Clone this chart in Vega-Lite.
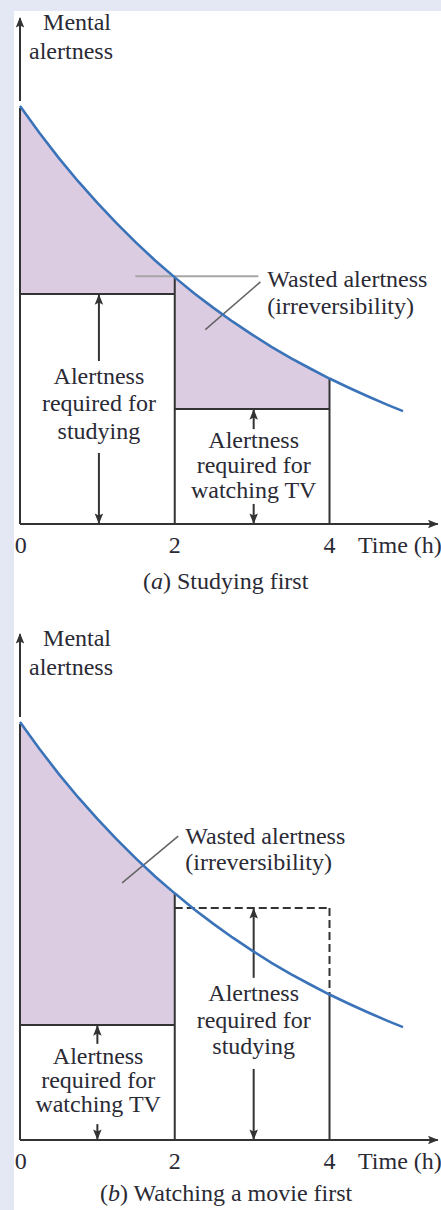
{
  "$schema": "https://vega.github.io/schema/vega-lite/v6.json",
  "background": "#e4e8f4",
  "padding": {"left": 14, "top": 10, "right": 0, "bottom": 0},
  "spacing": 0,
  "bounds": "flush",
  "config": {
    "view": {"fill": "white", "stroke": null},
    "text": {"font": "Liberation Serif", "fontSize": 24, "color": "#2a2a35", "baseline": "alphabetic"}
  },
  "datasets": {
    "curve": [
      {"t": 0, "a": 100}, {"t": 0.25, "a": 93.6}, {"t": 0.5, "a": 87.6}, {"t": 0.75, "a": 82.0},
      {"t": 1, "a": 76.8}, {"t": 1.25, "a": 71.9}, {"t": 1.5, "a": 67.3}, {"t": 1.75, "a": 63.0},
      {"t": 2, "a": 59.0}, {"t": 2.25, "a": 55.2}, {"t": 2.5, "a": 51.7}, {"t": 2.75, "a": 48.4},
      {"t": 3, "a": 45.3}, {"t": 3.25, "a": 42.4}, {"t": 3.5, "a": 39.7}, {"t": 3.75, "a": 37.2},
      {"t": 4, "a": 34.8}, {"t": 4.25, "a": 32.6}, {"t": 4.5, "a": 30.5}, {"t": 4.75, "a": 28.5},
      {"t": 4.95, "a": 27.0}
    ],
    "segs": [
      {"panel": "a", "role": "axis", "t": 0, "a": 0, "t2": 5.4, "a2": 0},
      {"panel": "a", "role": "axis", "t": 0, "a": 101.2, "t2": 0, "a2": 121},
      {"panel": "a", "role": "box", "t": 0, "a": 0, "t2": 0, "a2": 99.5},
      {"panel": "a", "role": "box", "t": 0, "a": 55, "t2": 2, "a2": 55},
      {"panel": "a", "role": "box", "t": 2, "a": 0, "t2": 2, "a2": 59},
      {"panel": "a", "role": "box", "t": 2, "a": 27.5, "t2": 4, "a2": 27.5},
      {"panel": "a", "role": "box", "t": 4, "a": 0, "t2": 4, "a2": 34.8},
      {"panel": "a", "role": "box", "t": 1.02, "a": 55, "t2": 1.02, "a2": 39},
      {"panel": "a", "role": "box", "t": 1.02, "a": 17, "t2": 1.02, "a2": 0},
      {"panel": "a", "role": "box", "t": 3.02, "a": 27.5, "t2": 3.02, "a2": 22.7},
      {"panel": "a", "role": "box", "t": 3.02, "a": 4.8, "t2": 3.02, "a2": 0},
      {"panel": "a", "role": "leaderLight", "t": 1.49, "a": 59.3, "t2": 3.08, "a2": 59.3},
      {"panel": "a", "role": "leader", "t": 3.107, "a": 57.9, "t2": 2.395, "a2": 46.5},
      {"panel": "b", "role": "axis", "t": 0, "a": 0, "t2": 5.4, "a2": 0},
      {"panel": "b", "role": "axis", "t": 0, "a": 101.2, "t2": 0, "a2": 121},
      {"panel": "b", "role": "box", "t": 0, "a": 0, "t2": 0, "a2": 99.5},
      {"panel": "b", "role": "box", "t": 0, "a": 27.5, "t2": 2, "a2": 27.5},
      {"panel": "b", "role": "box", "t": 2, "a": 0, "t2": 2, "a2": 59},
      {"panel": "b", "role": "box", "t": 4, "a": 0, "t2": 4, "a2": 34.8},
      {"panel": "b", "role": "dashed", "t": 2, "a": 55.5, "t2": 4, "a2": 55.5},
      {"panel": "b", "role": "dashed", "t": 4, "a": 55.5, "t2": 4, "a2": 34.8},
      {"panel": "b", "role": "box", "t": 3.02, "a": 55.5, "t2": 3.02, "a2": 38.8},
      {"panel": "b", "role": "box", "t": 3.02, "a": 17, "t2": 3.02, "a2": 0},
      {"panel": "b", "role": "box", "t": 1.0, "a": 27.5, "t2": 1.0, "a2": 23},
      {"panel": "b", "role": "box", "t": 1.0, "a": 3.8, "t2": 1.0, "a2": 0},
      {"panel": "b", "role": "leader", "t": 2.045, "a": 72.7, "t2": 1.32, "a2": 61.5}
    ],
    "heads": [
      {"panel": "a", "dir": "up", "t": 0, "a": 121.3},
      {"panel": "a", "dir": "up", "t": 1.02, "a": 55},
      {"panel": "a", "dir": "down", "t": 1.02, "a": 0},
      {"panel": "a", "dir": "up", "t": 3.02, "a": 27.5},
      {"panel": "a", "dir": "down", "t": 3.02, "a": 0},
      {"panel": "a", "dir": "right", "t": 5.41, "a": 0},
      {"panel": "b", "dir": "up", "t": 0, "a": 121.3},
      {"panel": "b", "dir": "up", "t": 3.02, "a": 55.5},
      {"panel": "b", "dir": "down", "t": 3.02, "a": 0},
      {"panel": "b", "dir": "up", "t": 1.0, "a": 27.5},
      {"panel": "b", "dir": "down", "t": 1.0, "a": 0},
      {"panel": "b", "dir": "right", "t": 5.41, "a": 0}
    ],
    "texts": [
      {"panel": "a", "role": "left", "t": 0.298, "a": 118.2, "text": "Mental"},
      {"panel": "a", "role": "left", "t": 0.117, "a": 111.2, "text": "alertness"},
      {"panel": "a", "role": "left", "t": 3.197, "a": 56.7, "text": "Wasted alertness"},
      {"panel": "a", "role": "left", "t": 3.197, "a": 50.2, "text": "(irreversibility)"},
      {"panel": "a", "role": "center", "t": 1.02, "a": 33.5, "text": "Alertness"},
      {"panel": "a", "role": "center", "t": 1.02, "a": 27.0, "text": "required for"},
      {"panel": "a", "role": "center", "t": 1.02, "a": 20.3, "text": "studying"},
      {"panel": "a", "role": "center", "t": 3.02, "a": 18.2, "text": "Alertness"},
      {"panel": "a", "role": "center", "t": 3.02, "a": 12.2, "text": "required for"},
      {"panel": "a", "role": "center", "t": 3.02, "a": 6.3, "text": "watching TV"},
      {"panel": "a", "role": "center", "t": 0.01, "a": -6.9, "text": "0"},
      {"panel": "a", "role": "center", "t": 2, "a": -6.9, "text": "2"},
      {"panel": "a", "role": "center", "t": 4, "a": -6.9, "text": "4"},
      {"panel": "a", "role": "left", "t": 4.368, "a": -6.9, "text": "Time (h)"},
      {"panel": "a", "role": "captionOpen", "t": 1.693, "a": -15.5, "text": "("},
      {"panel": "a", "role": "captionLetter", "t": 1.693, "a": -15.5, "text": "a"},
      {"panel": "a", "role": "left", "t": 1.848, "a": -15.5, "text": ") Studying first"},
      {"panel": "b", "role": "left", "t": 0.298, "a": 118.2, "text": "Mental"},
      {"panel": "b", "role": "left", "t": 0.117, "a": 111.2, "text": "alertness"},
      {"panel": "b", "role": "left", "t": 2.136, "a": 70.8, "text": "Wasted alertness"},
      {"panel": "b", "role": "left", "t": 2.136, "a": 64.6, "text": "(irreversibility)"},
      {"panel": "b", "role": "center", "t": 3.02, "a": 33.3, "text": "Alertness"},
      {"panel": "b", "role": "center", "t": 3.02, "a": 26.9, "text": "required for"},
      {"panel": "b", "role": "center", "t": 3.02, "a": 20.6, "text": "studying"},
      {"panel": "b", "role": "center", "t": 1.01, "a": 18.2, "text": "Alertness"},
      {"panel": "b", "role": "center", "t": 1.01, "a": 12.4, "text": "required for"},
      {"panel": "b", "role": "center", "t": 1.01, "a": 6.7, "text": "watching TV"},
      {"panel": "b", "role": "center", "t": 0.01, "a": -6.9, "text": "0"},
      {"panel": "b", "role": "center", "t": 2, "a": -6.9, "text": "2"},
      {"panel": "b", "role": "center", "t": 4, "a": -6.9, "text": "4"},
      {"panel": "b", "role": "left", "t": 4.368, "a": -6.9, "text": "Time (h)"},
      {"panel": "b", "role": "captionOpen", "t": 1.137, "a": -14.7, "text": "("},
      {"panel": "b", "role": "captionLetter", "t": 1.137, "a": -14.7, "text": "b"},
      {"panel": "b", "role": "left", "t": 1.292, "a": -14.7, "text": ") Watching a movie first"}
    ]
  },
  "vconcat": [
    {
      "width": 427,
      "height": 616,
      "layer": [
        {
          "data": {"name": "curve"},
          "transform": [{"filter": {"field": "t", "range": [0, 2]}}],
          "mark": {"type": "area", "color": "#dccce2"},
          "encoding": {
            "x": {"field": "t", "type": "quantitative", "scale": {"domain": [-0.0775, 5.441], "nice": false, "zero": false}, "axis": null},
            "y": {"field": "a", "type": "quantitative", "scale": {"domain": [-24.641, 122.727], "nice": false, "zero": false}, "axis": null},
            "y2": {"datum": 55}
          }
        },
        {
          "data": {"name": "curve"},
          "transform": [{"filter": {"field": "t", "range": [2, 4]}}],
          "mark": {"type": "area", "color": "#dccce2"},
          "encoding": {
            "x": {"field": "t", "type": "quantitative", "scale": {"domain": [-0.0775, 5.441], "nice": false, "zero": false}, "axis": null},
            "y": {"field": "a", "type": "quantitative", "scale": {"domain": [-24.641, 122.727], "nice": false, "zero": false}, "axis": null},
            "y2": {"datum": 27.5}
          }
        },
        {
          "data": {"name": "segs"},
          "transform": [{"filter": "datum.panel == 'a' && (datum.role == 'box' || datum.role == 'axis')"}],
          "mark": {"type": "rule", "color": "#333333", "strokeWidth": 2},
          "encoding": {
            "x": {"field": "t", "type": "quantitative", "scale": {"domain": [-0.0775, 5.441], "nice": false, "zero": false}, "axis": null},
            "y": {"field": "a", "type": "quantitative", "scale": {"domain": [-24.641, 122.727], "nice": false, "zero": false}, "axis": null},
            "x2": {"field": "t2"},
            "y2": {"field": "a2"}
          }
        },
        {
          "data": {"name": "segs"},
          "transform": [{"filter": "datum.panel == 'a' && datum.role == 'leaderLight'"}],
          "mark": {"type": "rule", "color": "#a6a6a6", "strokeWidth": 2},
          "encoding": {
            "x": {"field": "t", "type": "quantitative", "scale": {"domain": [-0.0775, 5.441], "nice": false, "zero": false}, "axis": null},
            "y": {"field": "a", "type": "quantitative", "scale": {"domain": [-24.641, 122.727], "nice": false, "zero": false}, "axis": null},
            "x2": {"field": "t2"},
            "y2": {"field": "a2"}
          }
        },
        {
          "data": {"name": "segs"},
          "transform": [{"filter": "datum.panel == 'a' && datum.role == 'leader'"}],
          "mark": {"type": "rule", "color": "#666666", "strokeWidth": 1.6},
          "encoding": {
            "x": {"field": "t", "type": "quantitative", "scale": {"domain": [-0.0775, 5.441], "nice": false, "zero": false}, "axis": null},
            "y": {"field": "a", "type": "quantitative", "scale": {"domain": [-24.641, 122.727], "nice": false, "zero": false}, "axis": null},
            "x2": {"field": "t2"},
            "y2": {"field": "a2"}
          }
        },
        {
          "data": {"name": "curve"},
          "mark": {"type": "line", "color": "#3b73b9", "strokeWidth": 2.6},
          "encoding": {
            "x": {"field": "t", "type": "quantitative", "scale": {"domain": [-0.0775, 5.441], "nice": false, "zero": false}, "axis": null},
            "y": {"field": "a", "type": "quantitative", "scale": {"domain": [-24.641, 122.727], "nice": false, "zero": false}, "axis": null}
          }
        },
        {
          "data": {"name": "heads"},
          "transform": [{"filter": "datum.panel == 'a' && datum.dir == 'up'"}],
          "mark": {"type": "point", "shape": "M0,0L-0.4,1L0,0.8L0.4,1Z", "size": 450, "filled": true, "opacity": 1, "color": "#333333", "strokeWidth": 0},
          "encoding": {
            "x": {"field": "t", "type": "quantitative", "scale": {"domain": [-0.0775, 5.441], "nice": false, "zero": false}, "axis": null},
            "y": {"field": "a", "type": "quantitative", "scale": {"domain": [-24.641, 122.727], "nice": false, "zero": false}, "axis": null}
          }
        },
        {
          "data": {"name": "heads"},
          "transform": [{"filter": "datum.panel == 'a' && datum.dir == 'down'"}],
          "mark": {"type": "point", "shape": "M0,0L-0.4,-1L0,-0.8L0.4,-1Z", "size": 450, "filled": true, "opacity": 1, "color": "#333333", "strokeWidth": 0},
          "encoding": {
            "x": {"field": "t", "type": "quantitative", "scale": {"domain": [-0.0775, 5.441], "nice": false, "zero": false}, "axis": null},
            "y": {"field": "a", "type": "quantitative", "scale": {"domain": [-24.641, 122.727], "nice": false, "zero": false}, "axis": null}
          }
        },
        {
          "data": {"name": "heads"},
          "transform": [{"filter": "datum.panel == 'a' && datum.dir == 'right'"}],
          "mark": {"type": "point", "shape": "M0,0L-1,-0.4L-0.8,0L-1,0.4Z", "size": 450, "filled": true, "opacity": 1, "color": "#333333", "strokeWidth": 0},
          "encoding": {
            "x": {"field": "t", "type": "quantitative", "scale": {"domain": [-0.0775, 5.441], "nice": false, "zero": false}, "axis": null},
            "y": {"field": "a", "type": "quantitative", "scale": {"domain": [-24.641, 122.727], "nice": false, "zero": false}, "axis": null}
          }
        },
        {
          "data": {"name": "texts"},
          "transform": [{"filter": "datum.panel == 'a' && datum.role == 'left'"}],
          "mark": {"type": "text", "align": "left"},
          "encoding": {
            "x": {"field": "t", "type": "quantitative", "scale": {"domain": [-0.0775, 5.441], "nice": false, "zero": false}, "axis": null},
            "y": {"field": "a", "type": "quantitative", "scale": {"domain": [-24.641, 122.727], "nice": false, "zero": false}, "axis": null},
            "text": {"field": "text"}
          }
        },
        {
          "data": {"name": "texts"},
          "transform": [{"filter": "datum.panel == 'a' && datum.role == 'center'"}],
          "mark": {"type": "text", "align": "center"},
          "encoding": {
            "x": {"field": "t", "type": "quantitative", "scale": {"domain": [-0.0775, 5.441], "nice": false, "zero": false}, "axis": null},
            "y": {"field": "a", "type": "quantitative", "scale": {"domain": [-24.641, 122.727], "nice": false, "zero": false}, "axis": null},
            "text": {"field": "text"}
          }
        },
        {
          "data": {"name": "texts"},
          "transform": [{"filter": "datum.panel == 'a' && datum.role == 'captionOpen'"}],
          "mark": {"type": "text", "align": "right"},
          "encoding": {
            "x": {"field": "t", "type": "quantitative", "scale": {"domain": [-0.0775, 5.441], "nice": false, "zero": false}, "axis": null},
            "y": {"field": "a", "type": "quantitative", "scale": {"domain": [-24.641, 122.727], "nice": false, "zero": false}, "axis": null},
            "text": {"field": "text"}
          }
        },
        {
          "data": {"name": "texts"},
          "transform": [{"filter": "datum.panel == 'a' && datum.role == 'captionLetter'"}],
          "mark": {"type": "text", "align": "left", "fontStyle": "italic"},
          "encoding": {
            "x": {"field": "t", "type": "quantitative", "scale": {"domain": [-0.0775, 5.441], "nice": false, "zero": false}, "axis": null},
            "y": {"field": "a", "type": "quantitative", "scale": {"domain": [-24.641, 122.727], "nice": false, "zero": false}, "axis": null},
            "text": {"field": "text"}
          }
        }
      ]
    },
    {
      "width": 427,
      "height": 584,
      "layer": [
        {
          "data": {"name": "curve"},
          "transform": [{"filter": {"field": "t", "range": [0, 2]}}],
          "mark": {"type": "area", "color": "#dccce2"},
          "encoding": {
            "x": {"field": "t", "type": "quantitative", "scale": {"domain": [-0.0775, 5.441], "nice": false, "zero": false}, "axis": null},
            "y": {"field": "a", "type": "quantitative", "scale": {"domain": [-16.986, 122.727], "nice": false, "zero": false}, "axis": null},
            "y2": {"datum": 27.5}
          }
        },
        {
          "data": {"name": "segs"},
          "transform": [{"filter": "datum.panel == 'b' && (datum.role == 'box' || datum.role == 'axis')"}],
          "mark": {"type": "rule", "color": "#333333", "strokeWidth": 2},
          "encoding": {
            "x": {"field": "t", "type": "quantitative", "scale": {"domain": [-0.0775, 5.441], "nice": false, "zero": false}, "axis": null},
            "y": {"field": "a", "type": "quantitative", "scale": {"domain": [-16.986, 122.727], "nice": false, "zero": false}, "axis": null},
            "x2": {"field": "t2"},
            "y2": {"field": "a2"}
          }
        },
        {
          "data": {"name": "segs"},
          "transform": [{"filter": "datum.panel == 'b' && datum.role == 'dashed'"}],
          "mark": {"type": "rule", "color": "#333333", "strokeWidth": 2, "strokeDash": [8, 4]},
          "encoding": {
            "x": {"field": "t", "type": "quantitative", "scale": {"domain": [-0.0775, 5.441], "nice": false, "zero": false}, "axis": null},
            "y": {"field": "a", "type": "quantitative", "scale": {"domain": [-16.986, 122.727], "nice": false, "zero": false}, "axis": null},
            "x2": {"field": "t2"},
            "y2": {"field": "a2"}
          }
        },
        {
          "data": {"name": "segs"},
          "transform": [{"filter": "datum.panel == 'b' && datum.role == 'leader'"}],
          "mark": {"type": "rule", "color": "#666666", "strokeWidth": 1.6},
          "encoding": {
            "x": {"field": "t", "type": "quantitative", "scale": {"domain": [-0.0775, 5.441], "nice": false, "zero": false}, "axis": null},
            "y": {"field": "a", "type": "quantitative", "scale": {"domain": [-16.986, 122.727], "nice": false, "zero": false}, "axis": null},
            "x2": {"field": "t2"},
            "y2": {"field": "a2"}
          }
        },
        {
          "data": {"name": "curve"},
          "mark": {"type": "line", "color": "#3b73b9", "strokeWidth": 2.6},
          "encoding": {
            "x": {"field": "t", "type": "quantitative", "scale": {"domain": [-0.0775, 5.441], "nice": false, "zero": false}, "axis": null},
            "y": {"field": "a", "type": "quantitative", "scale": {"domain": [-16.986, 122.727], "nice": false, "zero": false}, "axis": null}
          }
        },
        {
          "data": {"name": "heads"},
          "transform": [{"filter": "datum.panel == 'b' && datum.dir == 'up'"}],
          "mark": {"type": "point", "shape": "M0,0L-0.4,1L0,0.8L0.4,1Z", "size": 450, "filled": true, "opacity": 1, "color": "#333333", "strokeWidth": 0},
          "encoding": {
            "x": {"field": "t", "type": "quantitative", "scale": {"domain": [-0.0775, 5.441], "nice": false, "zero": false}, "axis": null},
            "y": {"field": "a", "type": "quantitative", "scale": {"domain": [-16.986, 122.727], "nice": false, "zero": false}, "axis": null}
          }
        },
        {
          "data": {"name": "heads"},
          "transform": [{"filter": "datum.panel == 'b' && datum.dir == 'down'"}],
          "mark": {"type": "point", "shape": "M0,0L-0.4,-1L0,-0.8L0.4,-1Z", "size": 450, "filled": true, "opacity": 1, "color": "#333333", "strokeWidth": 0},
          "encoding": {
            "x": {"field": "t", "type": "quantitative", "scale": {"domain": [-0.0775, 5.441], "nice": false, "zero": false}, "axis": null},
            "y": {"field": "a", "type": "quantitative", "scale": {"domain": [-16.986, 122.727], "nice": false, "zero": false}, "axis": null}
          }
        },
        {
          "data": {"name": "heads"},
          "transform": [{"filter": "datum.panel == 'b' && datum.dir == 'right'"}],
          "mark": {"type": "point", "shape": "M0,0L-1,-0.4L-0.8,0L-1,0.4Z", "size": 450, "filled": true, "opacity": 1, "color": "#333333", "strokeWidth": 0},
          "encoding": {
            "x": {"field": "t", "type": "quantitative", "scale": {"domain": [-0.0775, 5.441], "nice": false, "zero": false}, "axis": null},
            "y": {"field": "a", "type": "quantitative", "scale": {"domain": [-16.986, 122.727], "nice": false, "zero": false}, "axis": null}
          }
        },
        {
          "data": {"name": "texts"},
          "transform": [{"filter": "datum.panel == 'b' && datum.role == 'left'"}],
          "mark": {"type": "text", "align": "left"},
          "encoding": {
            "x": {"field": "t", "type": "quantitative", "scale": {"domain": [-0.0775, 5.441], "nice": false, "zero": false}, "axis": null},
            "y": {"field": "a", "type": "quantitative", "scale": {"domain": [-16.986, 122.727], "nice": false, "zero": false}, "axis": null},
            "text": {"field": "text"}
          }
        },
        {
          "data": {"name": "texts"},
          "transform": [{"filter": "datum.panel == 'b' && datum.role == 'center'"}],
          "mark": {"type": "text", "align": "center"},
          "encoding": {
            "x": {"field": "t", "type": "quantitative", "scale": {"domain": [-0.0775, 5.441], "nice": false, "zero": false}, "axis": null},
            "y": {"field": "a", "type": "quantitative", "scale": {"domain": [-16.986, 122.727], "nice": false, "zero": false}, "axis": null},
            "text": {"field": "text"}
          }
        },
        {
          "data": {"name": "texts"},
          "transform": [{"filter": "datum.panel == 'b' && datum.role == 'captionOpen'"}],
          "mark": {"type": "text", "align": "right"},
          "encoding": {
            "x": {"field": "t", "type": "quantitative", "scale": {"domain": [-0.0775, 5.441], "nice": false, "zero": false}, "axis": null},
            "y": {"field": "a", "type": "quantitative", "scale": {"domain": [-16.986, 122.727], "nice": false, "zero": false}, "axis": null},
            "text": {"field": "text"}
          }
        },
        {
          "data": {"name": "texts"},
          "transform": [{"filter": "datum.panel == 'b' && datum.role == 'captionLetter'"}],
          "mark": {"type": "text", "align": "left", "fontStyle": "italic"},
          "encoding": {
            "x": {"field": "t", "type": "quantitative", "scale": {"domain": [-0.0775, 5.441], "nice": false, "zero": false}, "axis": null},
            "y": {"field": "a", "type": "quantitative", "scale": {"domain": [-16.986, 122.727], "nice": false, "zero": false}, "axis": null},
            "text": {"field": "text"}
          }
        }
      ]
    }
  ]
}
